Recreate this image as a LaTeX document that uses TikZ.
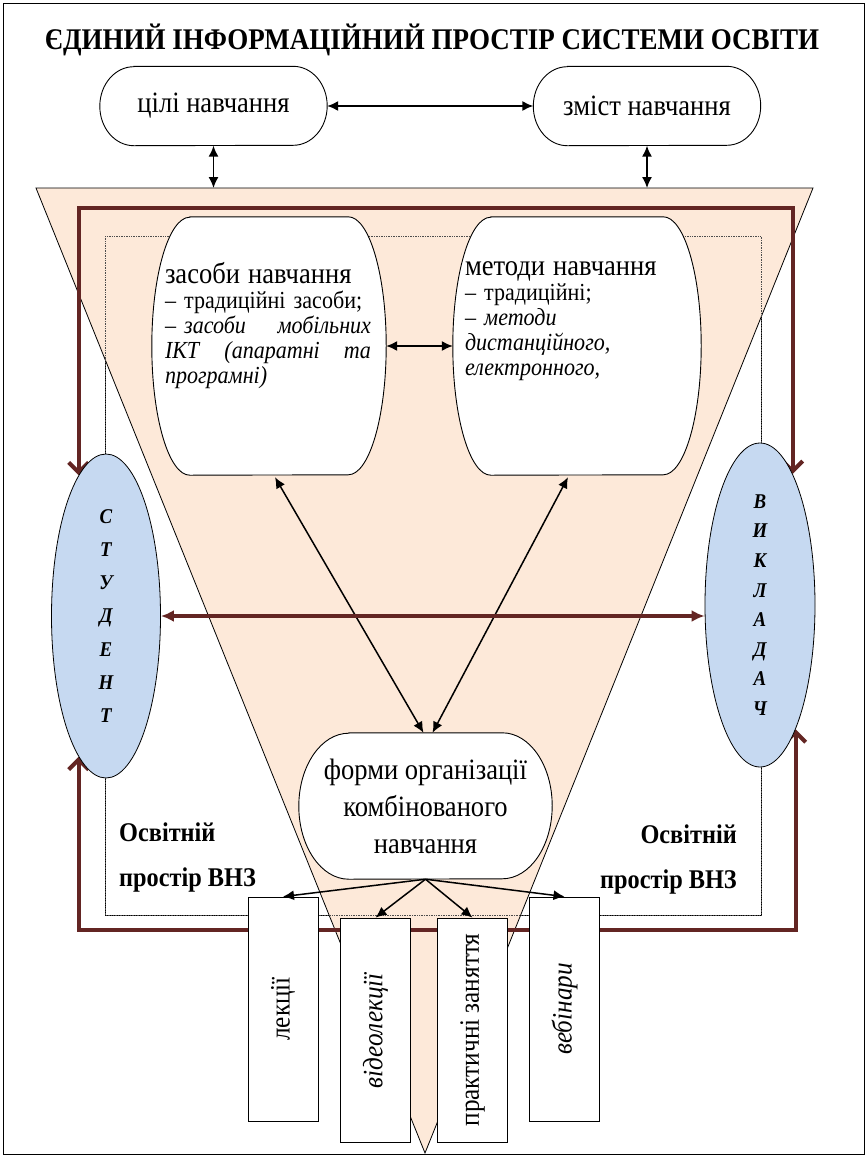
\documentclass[tikz,border=0pt]{standalone}
\usepackage{fontspec}
\setmainfont{Liberation Serif}[FakeStretch=0.9]
\usetikzlibrary{arrows.meta,positioning,shapes.geometric}
\definecolor{peach}{RGB}{253,233,217}
\definecolor{paleblue}{RGB}{198,217,241}
\definecolor{maroon}{RGB}{99,37,35}
\pgfdeclarelayer{back}
\pgfdeclarelayer{mid}
\pgfsetlayers{back,mid,main}
% outline with half-ellipse ends round a node: name, x radius, y radius
\newcommand{\capsule}[3]{%
  \draw[line width=0.9pt,fill=white] ([xshift=#2]#1.north west) -- ([xshift=-#2]#1.north east)
    arc[start angle=90,end angle=-90,x radius=#2,y radius=#3]
    -- ([xshift=#2]#1.south west)
    arc[start angle=270,end angle=90,x radius=#2,y radius=#3] -- cycle;}

\begin{document}
\begin{tikzpicture}[x=1pt,y=-1pt,
  roundbox/.style={minimum width=227pt,minimum height=79pt,font=\fontsize{29.5}{30}\selectfont},
  tallbox/.style={minimum width=234pt,minimum height=258pt},
  boxtext/.style={anchor=north west,text width=206pt,align=left,font=\fontsize{24.5}{25}\selectfont},
  actor/.style={ellipse,draw,fill=paleblue,line width=0.8pt,minimum width=109pt,minimum height=324pt},
  letters/.style={align=center,font=\bfseries\itshape\fontsize{21}{#1}\selectfont},
  formbox/.style={draw,fill=white,rotate=90,line width=0.8pt,minimum width=224pt,minimum height=70pt,font=\fontsize{28}{28}\selectfont},
  zone/.style={align=#1,font=\bfseries\fontsize{27}{45}\selectfont},
  link/.style={{Latex[length=11pt,width=10pt]}-{Latex[length=11pt,width=10pt]},line width=1.5pt},
  feed/.style={-{Latex[length=11pt,width=10pt]},line width=1.5pt},
  loopline/.style={draw=maroon,line width=4pt,{Straight Barb[length=10pt,width=20pt]}-{Straight Barb[length=10pt,width=20pt]}},
  crossline/.style={draw=maroon,line width=3.5pt,{Latex[length=13pt,width=12pt]}-{Latex[length=13pt,width=12pt]}}]
\tikzstyle{every node}+=[inner sep=0pt]
\useasboundingbox (0,0) rectangle (867,1157);

% corners of the funnel and of the inner frame
\coordinate (tl) at (36,188);
\coordinate (tr) at (813,188);
\coordinate (apex) at (425,1153);
\coordinate (zonenw) at (105,236);
\coordinate (zonese) at (761,915);
\coordinate (looptop) at (0,208);
\coordinate (loopbot) at (0,930);

\node (title) at (432,40) {\bfseries\fontsize{30}{36}\selectfont ЄДИНИЙ ІНФОРМАЦІЙНИЙ ПРОСТІР СИСТЕМИ ОСВІТИ};

\node[roundbox] (goals) at (213.5,106) {цілі навчання};
\node[roundbox] (content) at (647,106) {зміст навчання};

\node[tallbox] (tools) at (269,346) {};
\node[tallbox,minimum width=248pt] (methods) at (577,346) {};
\node[boxtext] (toolstext) at ([xshift=13pt,yshift=-45pt]tools.north west)
  {{\fontsize{29.5}{25}\selectfont засоби навчання}\\
   – традиційні засоби;\\
   –~\textit{засоби}\hfill\textit{мобільних}\\
   \textit{ІКТ}\hfill\textit{(апаратні}\hfill\textit{та}\\
   \textit{програмні)}};
\node[boxtext] (methodstext) at ([xshift=12pt,yshift=-45pt]methods.north west)
  {{\fontsize{29.5}{25}\selectfont методи навчання}\\
   – традиційні;\\
   –~\textit{методи}\\
   \textit{дистанційного,}\\
   \textit{електронного,}};

\node[minimum width=253pt,minimum height=146pt,align=center,font=\fontsize{29.5}{37}\selectfont] (forms) at (425.5,806)
  {форми організації\\комбінованого\\навчання};

\node[actor,label={[letters=33.3]center:{С\\Т\\У\\Д\\Е\\Н\\Т}}] (student) at (106,616) {};
\node[actor,minimum width=110pt,label={[letters=29.6]center:{В\\И\\К\\Л\\А\\Д\\А\\Ч}}] (teacher) at (760,605) {};

\node[zone=left,anchor=west] (zoneleft) at (119,857) {Освітній\\простір ВНЗ};
\node[zone=right,anchor=east] (zoneright) at (737,859) {Освітній\\простір ВНЗ};

\node[formbox] (lect) at (283,1009) {лекції};
\node[formbox] (video) at (375.5,1030) {\textit{відеолекції}};
\node[formbox] (practice) at (472.5,1030) {практичні заняття};
\node[formbox] (webinar) at (564.5,1009) {\textit{вебінари}};

\begin{pgfonlayer}{back}
\draw[line width=0.8pt] (3,3) rectangle (864,1154);
\draw[line width=0.8pt] (zonenw) rectangle (zonese);
\draw[line width=0.8pt,fill=peach] (tl) -- (tr) -- (apex) -- cycle;
\draw[line width=0.7pt,densely dotted,black!70] (zonenw) rectangle (zonese);
\draw[loopline] (student.101) -- (student.101 |- looptop) -- (teacher.76 |- looptop) -- (teacher.76);
\draw[loopline] (student.259) -- (student.259 |- loopbot) -- (teacher.286 |- loopbot) -- (teacher.286);
\end{pgfonlayer}

\begin{pgfonlayer}{mid}
\capsule{goals}{34pt}{39.5pt}
\capsule{content}{34pt}{39.5pt}
\capsule{tools}{38pt}{129pt}
\capsule{methods}{38pt}{129pt}
\capsule{forms}{50pt}{73pt}
\end{pgfonlayer}

\draw[link] (goals) -- (content);
\draw[link] (goals.south) -- (goals.south |- tl);
\draw[link] (content.south) -- (content.south |- tl);
\draw[link] (tools) -- (methods);
\draw[link] ([xshift=6pt,yshift=-2pt]tools.south) -- ([xshift=-2pt]forms.north);
\draw[link] ([xshift=-9pt,yshift=-2pt]methods.south) -- ([xshift=7pt]forms.north);
\draw[crossline] (student.east) -- (student.east -| teacher.west);
\draw[feed] (forms.south) -- (lect.east);
\draw[feed] (forms.south) -- (video.east);
\draw[feed] (forms.south) -- (practice.east);
\draw[feed] (forms.south) -- (webinar.east);
\end{tikzpicture}
\end{document}
